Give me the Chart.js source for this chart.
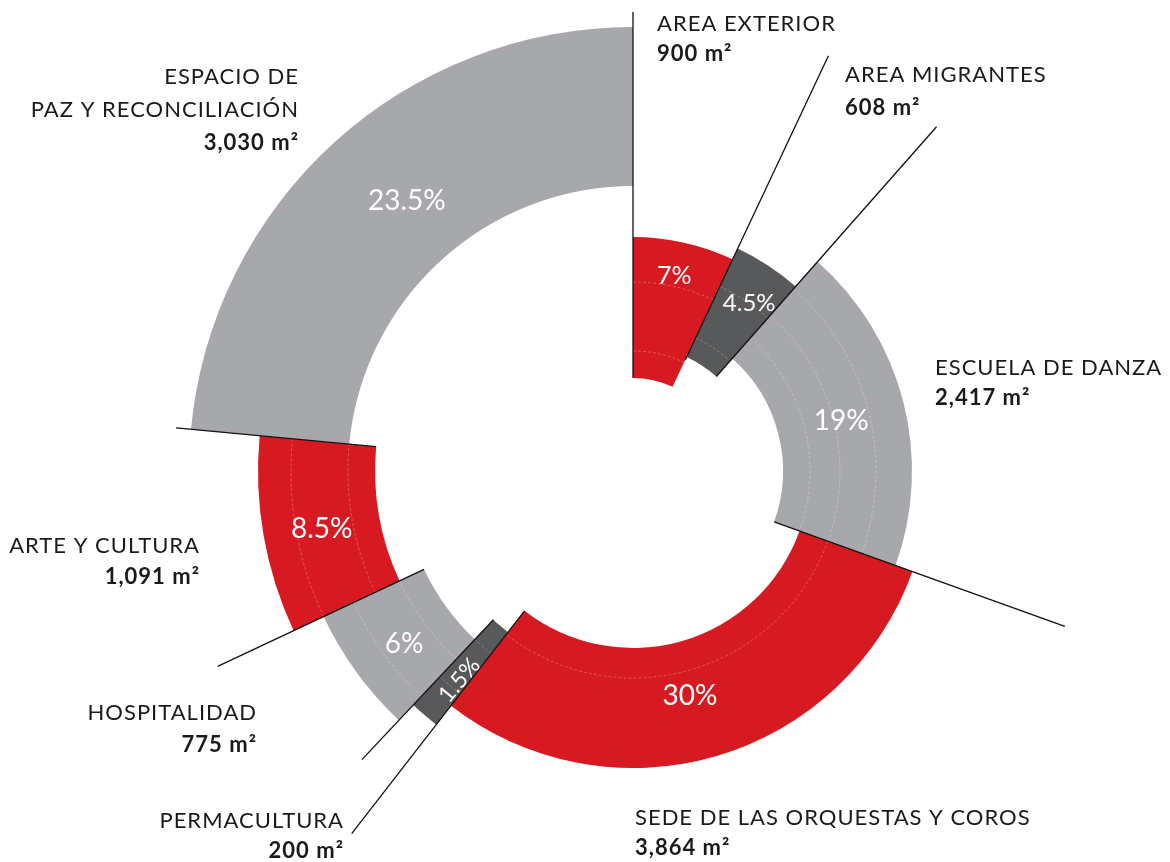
<!DOCTYPE html>
<html><head><meta charset="utf-8">
<script src="https://cdn.jsdelivr.net/npm/chart.js@4.4.1/dist/chart.umd.min.js"></script>
<style>html,body{margin:0;padding:0;background:#fff;overflow:hidden}canvas{display:block}</style>
</head><body>
<canvas id="c" width="1170" height="862"></canvas>
<script>
// ---- data ----
const categories = ['AREA EXTERIOR', 'AREA MIGRANTES', 'ESCUELA DE DANZA', 'SEDE DE LAS ORQUESTAS Y COROS',
  'PERMACULTURA', 'HOSPITALIDAD', 'ARTE Y CULTURA', 'ESPACIO DE\nPAZ Y RECONCILIACIÓN'];
const areas = [900, 608, 2417, 3864, 200, 775, 1091, 3030];          // m²
const shares = [7, 4.5, 19, 30, 1.5, 6, 8.5, 23.5];                    // %
const ringOuter = [78, 82, 93, 99, 107, 114, 125, 148];                // radial value of outer edge
const ringInner = [31, 42, 50, 59, 68, 77, 86, 95];                    // radial value of inner edge

// ---- styles / layout ----
const colors = ['#d71a21', '#58595b', '#a7a8ab', '#d71a21', '#58595b', '#a7a8ab', '#d71a21', '#a7a8ab'];
const guideRings = [[40, 63], [49, 68], [59, 69, 81], [69], [77, 94], [86, 103], [95, 114], []];
const leaderInner = [31, 41, 42, 50, 59, 68, 77, 86];
const leaderOuter = [153, 153, 153, 153, 153, 132, 153, 153];
const pctFrac = [0.76, 0.66, 0.5, 0.45, 0.58, 0.5, 0.5, 0.43];
const pctShift = [-0.7, 1.2, 0.6, 1.9, -0.6, -1, -0.5, 2.5];          // degrees
const pctSize = [25, 24, 28, 28, 23, 28, 28, 28];
// label anchor relative to chart centre: dx, dy of first baseline, alignment, line step
const labelLayout = [
  {dx: 24, dy: -440, align: 'left', step: 30},
  {dx: 212, dy: -389, align: 'left', step: 33},
  {dx: 302, dy: -96, align: 'left', step: 30},
  {dx: 2, dy: 354, align: 'left', step: 30},
  {dx: -289, dy: 357, align: 'right', step: 30},
  {dx: -376, dy: 249, align: 'right', step: 32},
  {dx: -433, dy: 82, align: 'right', step: 31},
  {dx: -334, dy: -387, align: 'right', step: 33}
];

class RingAreaController extends Chart.PolarAreaController {
  updateElement(element, index, properties, mode) {
    if (properties && properties.outerRadius !== undefined) {
      const inner = this.getDataset().innerData;
      if (inner) properties.innerRadius = this._cachedMeta.rScale.getDistanceFromCenterForValue(inner[index]);
    }
    super.updateElement(element, index, properties, mode);
  }
}
RingAreaController.id = 'ringArea';
RingAreaController.defaults = Chart.PolarAreaController.defaults;
RingAreaController.overrides = Chart.PolarAreaController.overrides;
Chart.register(RingAreaController);

const decor = {
  id: 'decor',
  afterDatasetsDraw(chart) {
    const ctx = chart.ctx;
    const scale = chart.scales.r;
    const cx = scale.xCenter, cy = scale.yCenter;
    const R = v => scale.getDistanceFromCenterForValue(v);
    const arcs = chart.getDatasetMeta(0).data;

    // faint inner rings
    ctx.save();
    ctx.strokeStyle = 'rgba(255,255,255,0.32)';
    ctx.lineWidth = 0.8;
    ctx.setLineDash([3, 2]);
    arcs.forEach((arc, i) => {
      guideRings[i].forEach(v => {
        ctx.beginPath();
        ctx.arc(cx, cy, R(v), arc.startAngle, arc.endAngle);
        ctx.stroke();
      });
    });
    ctx.restore();

    // leader lines along each segment start
    ctx.save();
    ctx.strokeStyle = '#111';
    ctx.lineWidth = 1.3;
    arcs.forEach((arc, i) => {
      const a = arc.startAngle, r1 = R(leaderInner[i]), r2 = R(leaderOuter[i]);
      ctx.beginPath();
      ctx.moveTo(cx + r1 * Math.cos(a), cy + r1 * Math.sin(a));
      ctx.lineTo(cx + r2 * Math.cos(a), cy + r2 * Math.sin(a));
      ctx.stroke();
    });
    ctx.restore();

    // percentage labels
    ctx.save();
    ctx.fillStyle = '#ffffff';
    ctx.textAlign = 'center';
    ctx.textBaseline = 'middle';
    arcs.forEach((arc, i) => {
      const a = (arc.startAngle + arc.endAngle) / 2 + pctShift[i] * Math.PI / 180;
      const r = arc.innerRadius + pctFrac[i] * (arc.outerRadius - arc.innerRadius);
      ctx.save();
      ctx.translate(cx + r * Math.cos(a), cy + r * Math.sin(a));
      if (shares[i] < 3) ctx.rotate(a + Math.PI);
      ctx.font = '400 ' + pctSize[i] + 'px Lato';
      ctx.fillText(shares[i] + '%', 0, 1);
      ctx.restore();
    });
    ctx.restore();

    // category labels
    ctx.save();
    ctx.fillStyle = '#1a1a1a';
    ctx.textBaseline = 'alphabetic';
    categories.forEach((name, i) => {
      const L = labelLayout[i];
      const lines = name.split('\n');
      ctx.textAlign = L.align;
      const x = cx + L.dx;
      let y = cy + L.dy;
      ctx.font = '400 22px Lato';
      ctx.letterSpacing = '1px';
      lines.forEach(t => { ctx.fillText(t, x, y); y += L.step; });
      ctx.font = '700 22px Lato';
      ctx.letterSpacing = '1px';
      ctx.fillText(areas[i].toLocaleString('en-US') + ' m²', x, y);
    });
    ctx.restore();
  }
};

new Chart(document.getElementById('c'), {
  type: 'ringArea',
  data: {
    labels: categories,
    datasets: [{
      data: ringOuter,
      innerData: ringInner,
      backgroundColor: colors,
      borderWidth: 0,
      angle: c => shares[c.dataIndex] * 3.6,
      clip: false
    }]
  },
  options: {
    responsive: false,
    animation: false,
    events: [],
    layout: {padding: {left: 96, right: 0, top: 81, bottom: 1}},
    scales: {r: {display: false, min: 0, max: 130}},
    plugins: {legend: {display: false}, tooltip: {enabled: false}}
  },
  plugins: [decor]
});
</script>
</body></html>
